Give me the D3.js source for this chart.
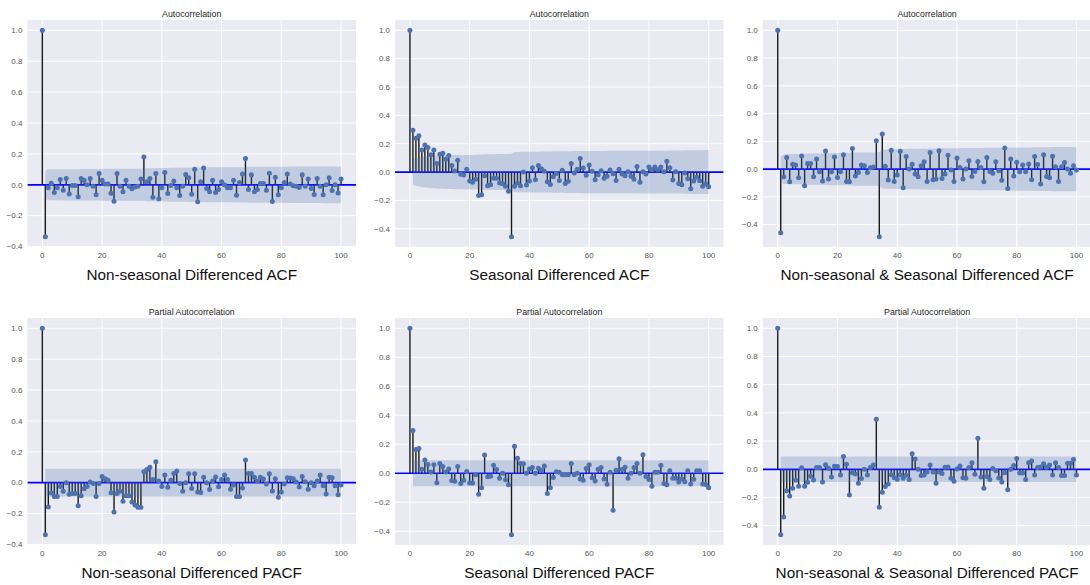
<!DOCTYPE html>
<html><head><meta charset="utf-8">
<script src="https://cdn.jsdelivr.net/npm/d3@7"></script>
<style>
body{margin:0;background:#fff;}
svg{display:block;font-family:"Liberation Sans",Arial,sans-serif;}
</style>
</head><body>
<svg id="chart" width="1090" height="585"></svg>
<script>
// ---------- DATA ----------
const xTicks = [0, 20, 40, 60, 80, 100];
const yTicks = [-0.4, -0.2, 0.0, 0.2, 0.4, 0.6, 0.8, 1.0];

const acfNonSeasonal = [1.0, -0.336, -0.02, 0.01, -0.05, -0.02, 0.035, -0.035, 0.04, -0.06, -0.005,
 -0.005, -0.078, 0.04, 0.03, 0.0, 0.04, -0.01, -0.065, 0.073, 0.03,
 0.005, 0.005, -0.055, -0.106, 0.073, -0.01, -0.045, 0.03, -0.01, -0.025,
 -0.015, -0.01, 0.037, 0.18, 0.02, 0.04, -0.08, 0.073, -0.09, -0.02,
 0.08, -0.056, -0.005, 0.025, -0.02, -0.07, -0.01, 0.067, 0.045, -0.062,
 0.1, -0.11, 0.02, 0.108, -0.024, -0.045, 0.03, -0.05, -0.03, 0.02,
 0.0, -0.02, -0.02, 0.03, -0.067, 0.015, 0.07, 0.17, -0.03, 0.065,
 -0.045, -0.03, 0.008, 0.008, -0.035, 0.075, -0.108, 0.048, -0.065, -0.02,
 0.015, 0.07, 0.005, -0.007, -0.01, -0.017, 0.065, -0.01, 0.037, -0.024,
 -0.063, 0.04, -0.01, -0.065, 0.0, 0.045, -0.037, 0.0, -0.054, 0.037];

const acfSeasonal = [1.0, 0.295, 0.238, 0.257, 0.155, 0.19, 0.173, 0.122, 0.155, 0.06, 0.126,
 0.133, 0.09, 0.117, 0.047, 0.007, 0.084, -0.016, -0.021, 0.02, -0.063,
 -0.072, -0.05, -0.166, -0.16, -0.026, -0.096, -0.089, -0.044, -0.044, -0.077,
 -0.082, -0.1, -0.136, -0.456, -0.1, -0.077, -0.096, 0.0, -0.091, -0.063,
 0.03, -0.054, 0.047, 0.023, 0.005, -0.068, -0.087, -0.033, -0.01, -0.06,
 0.012, -0.08, -0.065, 0.06, -0.007, 0.02, 0.096, 0.028, -0.023, 0.05,
 0.005, -0.054, -0.019, 0.01, -0.044, -0.03, 0.014, -0.012, -0.06, 0.02,
 -0.014, -0.026, 0.002, -0.03, -0.05, 0.04, -0.072, 0.002, -0.014, 0.035,
 0.016, 0.035, 0.016, 0.035, 0.002, 0.077, 0.03, -0.056, 0.002, -0.08,
 -0.089, -0.007, -0.047, -0.117, -0.063, -0.037, -0.061, -0.1, -0.082, -0.103];

const acfBoth = [1.0, -0.458, -0.055, 0.084, -0.092, 0.035, 0.03, -0.063, 0.094, -0.12, 0.04,
 0.04, -0.055, 0.072, -0.02, -0.085, 0.13, -0.072, -0.02, 0.087, -0.06,
 -0.02, 0.103, -0.09, -0.092, 0.148, -0.05, -0.025, 0.03, 0.025, -0.025,
 0.01, 0.015, 0.205, -0.487, 0.253, 0.02, -0.078, 0.135, -0.09, -0.042,
 0.128, -0.135, 0.09, 0.0, 0.035, -0.036, -0.055, 0.024, 0.053, -0.09,
 0.12, -0.077, -0.072, 0.132, -0.067, -0.036, 0.099, -0.007, -0.09, 0.08,
 0.012, -0.072, 0.0, 0.06, -0.053, -0.017, 0.055, 0.012, -0.092, 0.084,
 -0.017, -0.03, 0.053, -0.012, -0.08, 0.152, -0.14, 0.072, -0.05, 0.05,
 -0.02, 0.03, -0.02, 0.036, -0.077, 0.09, 0.034, -0.108, 0.104, -0.053,
 -0.063, 0.092, 0.017, -0.09, 0.017, 0.048, 0.0, -0.03, 0.024, -0.007];

const pacfNonSeasonal = [1.0, -0.337, -0.157, -0.067, -0.09, -0.09, -0.025, -0.055, 0.0, -0.075, -0.07,
 -0.07, -0.15, -0.085, -0.04, -0.025, 0.005, -0.005, -0.09, -0.005, 0.04,
 0.025, 0.015, -0.065, -0.19, -0.07, -0.055, -0.12, -0.085, -0.085, -0.125,
 -0.145, -0.16, -0.16, 0.07, 0.085, 0.1, 0.02, 0.135, 0.01, -0.025,
 0.05, -0.03, 0.015, 0.06, 0.075, -0.005, -0.055, 0.0, 0.058, -0.038,
 0.058, -0.06, -0.063, 0.035, 0.0, -0.045, 0.01, 0.037, -0.026, 0.02,
 0.05, 0.02, -0.043, -0.015, -0.09, -0.09, -0.035, 0.147, 0.06, 0.06,
 0.035, 0.01, 0.035, 0.024, -0.008, 0.058, -0.054, 0.026, -0.095, -0.06,
 -0.008, 0.032, 0.03, 0.026, 0.004, -0.028, 0.04, 0.006, -0.043, 0.0,
 -0.02, 0.01, 0.05, -0.02, -0.074, 0.035, 0.032, -0.02, -0.078, -0.015];

const pacfSeasonal = [1.0, 0.295, 0.164, 0.17, 0.028, 0.092, 0.06, 0.009, 0.058, -0.065, 0.067,
 0.046, 0.009, 0.03, -0.05, -0.055, 0.046, -0.07, -0.048, 0.012, -0.067,
 -0.067, -0.01, -0.145, -0.1, 0.125, -0.025, -0.02, 0.055, 0.025, -0.035,
 0.0, -0.045, -0.08, -0.424, 0.187, 0.104, 0.067, 0.065, 0.0, 0.03,
 0.04, 0.0, 0.035, 0.02, 0.05, -0.14, -0.1, -0.03, 0.01, 0.006,
 -0.01, -0.01, -0.01, 0.067, -0.01, 0.0, -0.04, -0.048, 0.032, 0.058,
 -0.032, -0.053, 0.028, 0.039, -0.04, -0.076, 0.007, -0.256, 0.02, 0.1,
 0.025, 0.041, -0.035, 0.0, 0.039, 0.067, 0.0, 0.127, -0.023, -0.044,
 -0.09, 0.007, 0.007, 0.055, -0.07, -0.08, 0.018, -0.035, -0.035, -0.06,
 -0.04, -0.058, 0.018, -0.074, -0.041, 0.018, 0.018, -0.074, -0.078, -0.1];

const pacfBoth = [1.0, -0.464, -0.339, -0.152, -0.19, -0.135, -0.078, -0.12, 0.01, -0.12, -0.092,
 -0.05, -0.076, 0.012, 0.012, -0.09, 0.033, 0.007, -0.055, 0.021, 0.019,
 -0.04, 0.09, 0.036, -0.182, -0.024, -0.033, -0.1, -0.066, 0.0, -0.04,
 0.012, 0.031, 0.355, -0.27, -0.163, -0.122, -0.105, -0.038, -0.06, -0.071,
 -0.038, -0.064, -0.043, -0.073, 0.111, 0.073, 0.0, -0.044, -0.04, -0.02,
 0.03, -0.02, -0.1, -0.02, -0.03, 0.014, 0.016, -0.064, -0.085, 0.002,
 0.024, -0.06, -0.064, 0.012, 0.047, -0.036, 0.22, -0.055, -0.135, -0.052,
 -0.073, 0.005, -0.01, -0.062, -0.09, -0.024, -0.145, 0.0, 0.026, 0.076,
 -0.026, -0.026, -0.073, 0.047, 0.059, -0.04, 0.012, 0.016, 0.04, 0.014,
 0.031, -0.04, 0.047, 0.012, -0.045, -0.045, 0.043, 0.043, 0.069, -0.04];

// confidence-band half widths for lags 1..100 (read from the shaded areas)
const bandAcfNonSeasonal = [0.090, 0.100, 0.100, 0.100, 0.100, 0.100, 0.100, 0.101, 0.101, 0.101,
 0.101, 0.101, 0.102, 0.102, 0.102, 0.102, 0.102, 0.102, 0.102, 0.103,
 0.103, 0.103, 0.103, 0.103, 0.104, 0.104, 0.104, 0.104, 0.104, 0.104,
 0.104, 0.104, 0.104, 0.104, 0.107, 0.107, 0.107, 0.108, 0.108, 0.109,
 0.109, 0.109, 0.110, 0.110, 0.110, 0.110, 0.110, 0.110, 0.111, 0.111,
 0.111, 0.112, 0.112, 0.112, 0.113, 0.113, 0.113, 0.113, 0.113, 0.113,
 0.113, 0.113, 0.113, 0.113, 0.113, 0.114, 0.114, 0.114, 0.116, 0.116,
 0.116, 0.116, 0.116, 0.116, 0.116, 0.116, 0.117, 0.117, 0.117, 0.117,
 0.117, 0.117, 0.118, 0.118, 0.118, 0.118, 0.118, 0.118, 0.118, 0.118,
 0.118, 0.118, 0.118, 0.119, 0.119, 0.119, 0.119, 0.119, 0.119, 0.119];

const bandAcfSeasonal = [0.090, 0.097, 0.102, 0.107, 0.109, 0.111, 0.114, 0.115, 0.116, 0.117,
 0.118, 0.119, 0.119, 0.120, 0.121, 0.121, 0.121, 0.121, 0.121, 0.121,
 0.121, 0.122, 0.122, 0.124, 0.125, 0.125, 0.126, 0.126, 0.127, 0.127,
 0.127, 0.128, 0.128, 0.129, 0.142, 0.142, 0.143, 0.143, 0.143, 0.144,
 0.144, 0.144, 0.144, 0.145, 0.145, 0.145, 0.145, 0.146, 0.146, 0.146,
 0.146, 0.147, 0.147, 0.147, 0.148, 0.148, 0.148, 0.149, 0.149, 0.149,
 0.149, 0.149, 0.149, 0.149, 0.149, 0.150, 0.150, 0.150, 0.150, 0.150,
 0.150, 0.150, 0.150, 0.150, 0.150, 0.150, 0.151, 0.151, 0.151, 0.151,
 0.151, 0.151, 0.151, 0.151, 0.151, 0.151, 0.152, 0.152, 0.152, 0.152,
 0.152, 0.153, 0.153, 0.153, 0.154, 0.154, 0.154, 0.154, 0.155, 0.155];

const bandAcfBoth = [0.090, 0.107, 0.107, 0.108, 0.109, 0.109, 0.109, 0.110, 0.111, 0.112,
 0.112, 0.112, 0.113, 0.113, 0.113, 0.114, 0.115, 0.116, 0.116, 0.116,
 0.117, 0.117, 0.117, 0.118, 0.118, 0.120, 0.120, 0.120, 0.120, 0.120,
 0.120, 0.120, 0.120, 0.123, 0.138, 0.141, 0.141, 0.141, 0.142, 0.143,
 0.143, 0.144, 0.145, 0.146, 0.146, 0.146, 0.146, 0.147, 0.147, 0.147,
 0.148, 0.148, 0.149, 0.149, 0.150, 0.150, 0.150, 0.151, 0.151, 0.151,
 0.152, 0.152, 0.152, 0.152, 0.152, 0.152, 0.152, 0.152, 0.152, 0.153,
 0.153, 0.153, 0.153, 0.153, 0.153, 0.153, 0.155, 0.156, 0.156, 0.156,
 0.156, 0.156, 0.156, 0.156, 0.156, 0.157, 0.157, 0.157, 0.158, 0.158,
 0.158, 0.159, 0.159, 0.159, 0.159, 0.159, 0.159, 0.159, 0.159, 0.159];

const pacfBandNonSeasonal = 0.090;
const pacfBandSeasonal = 0.090;
const pacfBandBoth = 0.090;

const titles = ["Autocorrelation", "Partial Autocorrelation"];
const subtitles = [
  "Non-seasonal Differenced ACF", "Seasonal Differenced ACF", "Non-seasonal & Seasonal Differenced ACF",
  "Non-seasonal Differenced PACF", "Seasonal Differenced PACF", "Non-seasonal & Seasonal Differenced PACF"
];

// ---------- LAYOUT ----------
const colLeft = [27.4, 395, 762.8];
const axW = 328.6;
const rowTop = [20, 318];
const axH = 227;

const panels = [
  {values: acfNonSeasonal, band: bandAcfNonSeasonal},
  {values: acfSeasonal, band: bandAcfSeasonal},
  {values: acfBoth, band: bandAcfBoth},
  {values: pacfNonSeasonal, band: acfNonSeasonal.slice(1).map(() => pacfBandNonSeasonal)},
  {values: pacfSeasonal, band: acfNonSeasonal.slice(1).map(() => pacfBandSeasonal)},
  {values: pacfBoth, band: acfNonSeasonal.slice(1).map(() => pacfBandBoth)}
];

const svg = d3.select("#chart");
const fmt = d3.format(".1f");

panels.forEach((p, i) => {
  const row = Math.floor(i / 3), col = i % 3;
  const left = colLeft[col], top = rowTop[row];
  const right = left + axW, bottom = top + axH;

  const lo = d3.min(p.values), hi = d3.max(p.values);
  const pad = 0.05 * (hi - lo);
  const x = d3.scaleLinear().domain([-5, 105]).range([left, right]);
  const y = d3.scaleLinear().domain([lo - pad, hi + pad]).range([bottom, top]);

  const g = svg.append("g");
  const clipId = "clip" + i;
  svg.append("clipPath").attr("id", clipId)
    .append("rect").attr("x", left).attr("y", top).attr("width", axW).attr("height", axH);

  g.append("rect").attr("x", left).attr("y", top).attr("width", axW).attr("height", axH)
    .attr("fill", "#EAEAF2");

  const plot = g.append("g").attr("clip-path", `url(#${clipId})`);
  const yt = yTicks.filter(t => t >= y.domain()[0] && t <= y.domain()[1]);

  plot.selectAll("line.gx").data(xTicks).enter().append("line")
    .attr("x1", d => x(d)).attr("x2", d => x(d)).attr("y1", top).attr("y2", bottom)
    .attr("stroke", "#fff").attr("stroke-width", 1);
  plot.selectAll("line.gy").data(yt).enter().append("line")
    .attr("x1", left).attr("x2", right).attr("y1", d => y(d)).attr("y2", d => y(d))
    .attr("stroke", "#fff").attr("stroke-width", 1);

  // stems
  plot.append("g").selectAll("line").data(p.values).enter().append("line")
    .attr("x1", (d, k) => x(k)).attr("x2", (d, k) => x(k))
    .attr("y1", y(0)).attr("y2", d => y(d))
    .attr("stroke", "#1a1a1a").attr("stroke-width", 1.4);

  // zero line
  plot.append("line").attr("x1", left).attr("x2", right).attr("y1", y(0)).attr("y2", y(0))
    .attr("stroke", "#0000ff").attr("stroke-width", 1.7);

  // markers
  plot.append("g").selectAll("circle").data(p.values).enter().append("circle")
    .attr("cx", (d, k) => x(k)).attr("cy", d => y(d)).attr("r", 2.5)
    .attr("fill", "#4C72B0");

  // confidence band (lags 1..100)
  const area = d3.area()
    .x((d, k) => x(k + 1))
    .y0(d => y(-d)).y1(d => y(d));
  plot.append("path").datum(p.band).attr("d", area)
    .attr("fill", "#4C72B0").attr("fill-opacity", 0.25);

  // tick labels
  g.selectAll("text.yl").data(yt).enter().append("text")
    .attr("x", left - 5).attr("y", d => y(d) + 2.8)
    .attr("text-anchor", "end").attr("font-size", 8).attr("fill", "#555")
    .text(d => fmt(d));
  g.selectAll("text.xl").data(xTicks).enter().append("text")
    .attr("x", d => x(d)).attr("y", bottom + 11)
    .attr("text-anchor", "middle").attr("font-size", 8).attr("fill", "#555")
    .text(d => d);

  // title
  g.append("text").attr("x", (left + right) / 2).attr("y", top - 3)
    .attr("text-anchor", "middle").attr("font-size", 8.8).attr("fill", "#262626")
    .text(titles[row]);

  // subtitle
  g.append("text").attr("x", (left + right) / 2).attr("y", bottom + 32.5)
    .attr("text-anchor", "middle").attr("font-size", 15.3).attr("fill", "#111")
    .text(subtitles[i]);
});
</script>
</body></html>
